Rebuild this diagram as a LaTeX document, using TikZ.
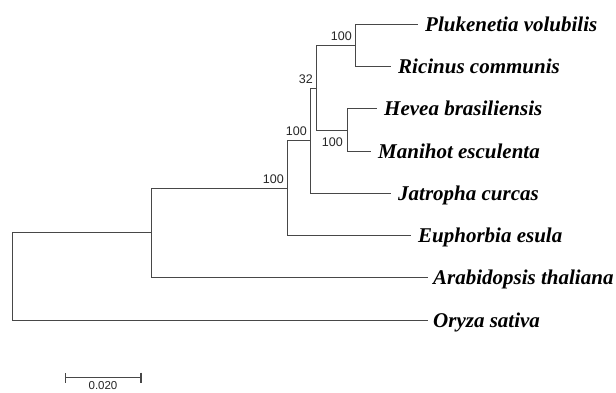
\documentclass[tikz,border=0pt]{standalone}
\usepackage{fontspec}
\setmainfont{Liberation Serif}
\setsansfont{Liberation Sans}
\usepackage{tikz}
\usetikzlibrary{arrows.meta,positioning}

\begin{document}
\begin{tikzpicture}[x=1pt,y=-1pt,line width=1.4pt,draw=black!72,
	taxon/.style={anchor=west,inner sep=0pt,text height=13pt,text depth=0pt,font=\fontsize{21}{24}\selectfont\bfseries\itshape},
	boot/.style={anchor=south east,inner sep=0pt,xshift=-3pt,yshift=4.5pt,text=black!85,font=\sffamily\fontsize{12.5}{14}\selectfont},
	bootlow/.style={anchor=north east,inner sep=0pt,xshift=-4pt,yshift=-7pt,text=black!85,font=\sffamily\fontsize{12.5}{14}\selectfont}]
	\useasboundingbox (0,0) rectangle (616,392);

	\coordinate (tPluk) at (417.5,24.5);
	\coordinate (tRic) at (390.5,66.5);
	\coordinate (tHev) at (376.5,108.5);
	\coordinate (tMan) at (370.5,151.5);
	\coordinate (tJat) at (390.5,193.5);
	\coordinate (tEup) at (410.5,235.5);
	\coordinate (tAra) at (427.5,277.5);
	\coordinate (tOry) at (427.5,320.5);

	\coordinate (nP) at (355.5,45.5);
	\coordinate (nH) at (347.5,130.5);
	\coordinate (n32) at (316.5,88.5);
	\coordinate (nJ) at (310.5,140.5);
	\coordinate (nE) at (287.5,188.5);
	\coordinate (nA) at (151.5,232.5);
	\coordinate (nR) at (12.5,276.5);

	\node[taxon,right=7pt of tPluk] (lPluk) {Plukenetia volubilis};
	\node[taxon,right=7pt of tRic] (lRic) {Ricinus communis};
	\node[taxon,right=7pt of tHev] (lHev) {Hevea brasiliensis};
	\node[taxon,right=7pt of tMan] (lMan) {Manihot esculenta};
	\node[taxon,right=7pt of tJat] (lJat) {Jatropha curcas};
	\node[taxon,right=7pt of tEup] (lEup) {Euphorbia esula};
	\node[taxon,right=5pt of tAra] (lAra) {Arabidopsis thaliana};
	\node[taxon,right=5pt of tOry] (lOry) {Oryza sativa};

	\draw (tPluk) -| (nP) |- (tRic);
	\draw (tHev) -| (nH) |- (tMan);
	\draw (nP) -| (n32) |- (nH);
	\draw (n32) -| (nJ) |- (tJat);
	\draw (nJ) -| (nE) |- (tEup);
	\draw (nE) -| (nA) |- (tAra);
	\draw (nA) -| (nR) |- (tOry);

	\node[boot] (bP) at (nP) {100};
	\node[boot] (b32) at (n32) {32};
	\node[bootlow] (bH) at (nH) {100};
	\node[boot] (bJ) at (nJ) {100};
	\node[boot] (bE) at (nE) {100};

	\coordinate (sbL) at (64.5,377.5);
	\coordinate (sbR) at (141.5,377.5);
	\coordinate (sbM) at (103,377.5);
	\draw[{Bar[width=10pt]}-{Bar[width=10pt]}] (sbL) -- (sbR);
	\node[below=3pt of sbM,inner sep=0pt,text=black!85,font=\sffamily\fontsize{11.5}{13}\selectfont] (sbLabel) {0.020};
\end{tikzpicture}
\end{document}
